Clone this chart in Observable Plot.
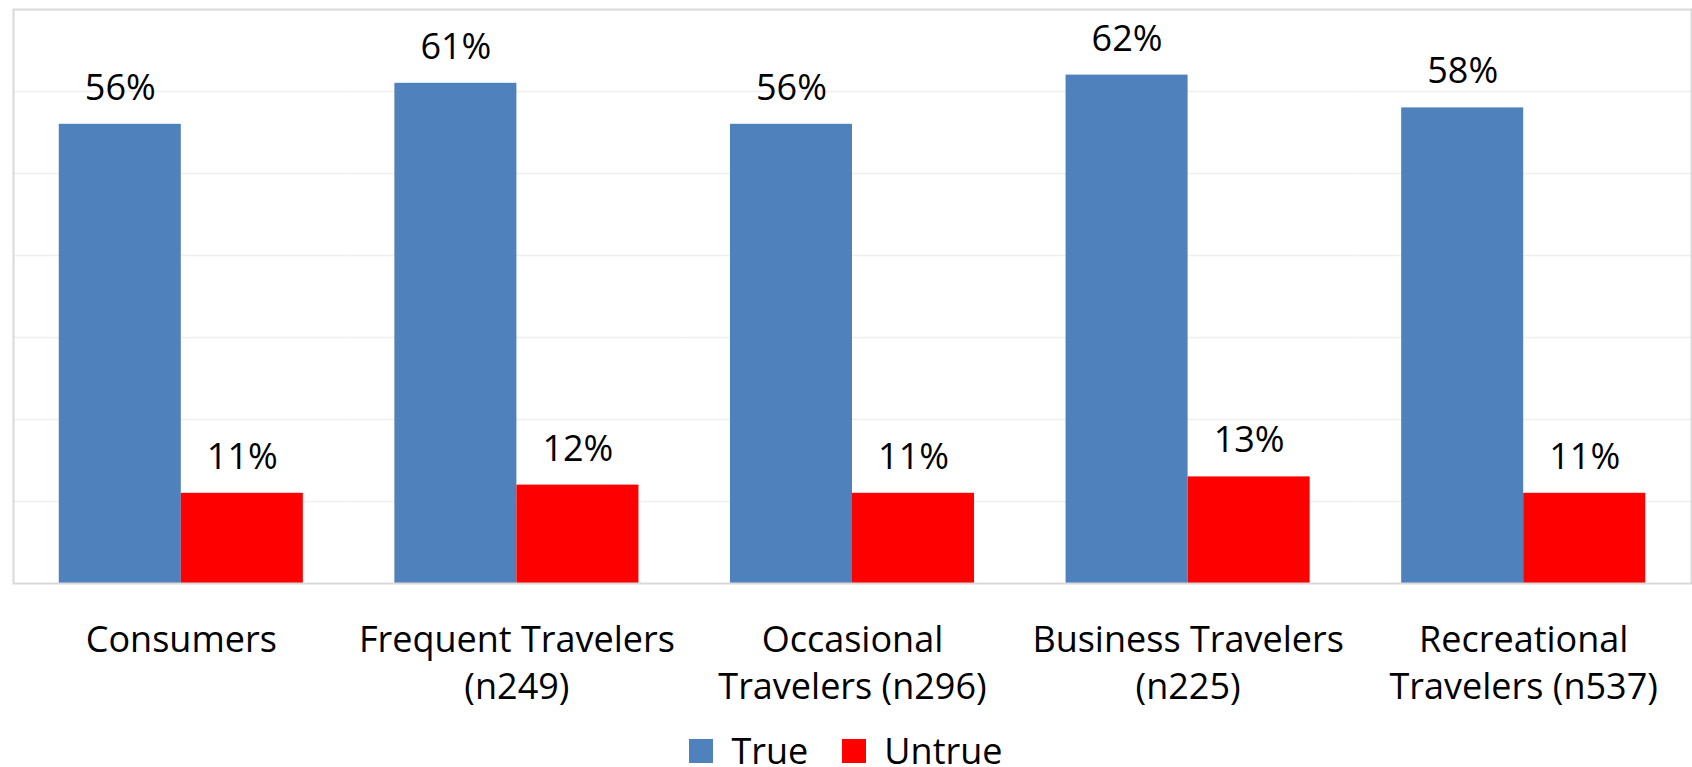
<!DOCTYPE html>
<html>
<head>
<meta charset="utf-8">
<script src="https://cdn.jsdelivr.net/npm/d3@7"></script>
<script src="https://cdn.jsdelivr.net/npm/@observablehq/plot@0.6"></script>
<style>
  html, body { margin: 0; padding: 0; background: #fff; overflow: hidden; }
  #chart svg { display: block; }
  .legend { display: flex; justify-content: center; align-items: center; height: 31px; padding-top: 15px;
            font-family: "Open Sans", sans-serif; font-size: 36px; line-height: 28px; color: #000; }
  .legend .item { display: flex; align-items: center; margin: 0 17px; }
  .legend .sw { width: 24px; height: 24px; margin-right: 18px; }
  .legend .lbl { display: inline-block; height: 28px; line-height: 28px; }
</style>
</head>
<body>
<div id="chart"></div>
<script>
const categories = [
  "Consumers",
  "Frequent Travelers\n(n249)",
  "Occasional\nTravelers (n296)",
  "Business Travelers\n(n225)",
  "Recreational\nTravelers (n537)"
];
const series = ["True", "Untrue"];
const trueValues = [56, 61, 56, 62, 58];
const untrueValues = [11, 12, 11, 13, 11];
const colors = ["#4f81bd", "#ff0000"];
const gridValues = [10, 20, 30, 40, 50, 60];

const data = [];
categories.forEach((c, i) => {
  data.push({category: c, series: "True", value: trueValues[i]});
  data.push({category: c, series: "Untrue", value: untrueValues[i]});
});

const font = "'Open Sans', sans-serif";

const plot = Plot.plot({
  width: 1692,
  height: 720,
  marginLeft: 13,
  marginRight: 1,
  marginTop: 9,
  marginBottom: 137,
  style: {fontFamily: font, background: "#fff", color: "#000"},
  fx: {domain: categories, paddingInner: 0, paddingOuter: 0, round: false, label: null},
  x: {domain: series, paddingInner: 0, paddingOuter: 0.375, round: false, axis: null},
  y: {domain: [0, 70], axis: null},
  color: {domain: series, range: colors},
  marks: [
    Plot.ruleY(gridValues, {stroke: "#efefef", strokeWidth: 1.5}),
    Plot.barY(data, {fx: "category", x: "series", y: "value", fill: "series"}),
    Plot.text(data, {fx: "category", x: "series", y: "value", text: d => d.value + "%",
      dy: -36, fontSize: 36, fill: "#000", lineAnchor: "middle"}),
    Plot.frame({facet: "super", stroke: "#d9d9d9", strokeWidth: 2}),
    Plot.axisFx({anchor: "bottom", tickSize: 0, tickPadding: 35, fontSize: 36,
      lineHeight: 1.3, label: null, lineAnchor: "top", fill: "#000"})
  ]
});
document.getElementById("chart").appendChild(plot);

const legend = d3.select("body").append("div").attr("class", "legend");
const items = legend.selectAll(".item").data(series).join("div").attr("class", "item");
items.append("div").attr("class", "sw").style("background", (d, i) => colors[i]);
items.append("span").attr("class", "lbl").text(d => d);
</script>
</body>
</html>
